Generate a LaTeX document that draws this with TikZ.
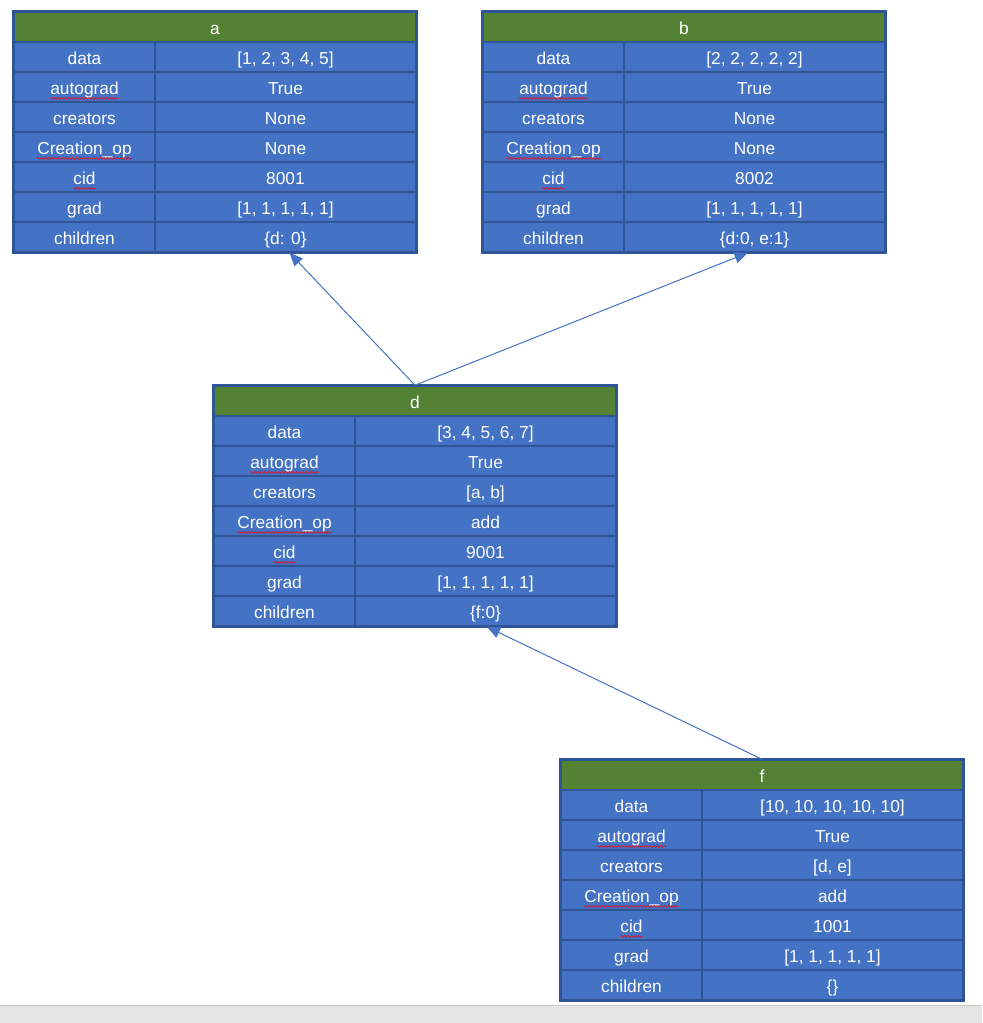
\documentclass[tikz,border=0pt]{standalone}
\usepackage{fontspec}
\setmainfont{Liberation Sans}
\usetikzlibrary{arrows.meta,decorations.pathmorphing}
\definecolor{hdgreen}{HTML}{548235}
\definecolor{cellblue}{HTML}{4472C4}
\definecolor{edgeblue}{HTML}{2F5597}
\definecolor{barfill}{HTML}{E4E4E4}
\definecolor{barline}{HTML}{C6C6C6}
\tikzset{
  txt/.style={text=white, font=\fontsize{13}{15}\selectfont, text height=12pt, text depth=0.8pt},
  cellbase/.style={txt, draw=edgeblue, line width=1.1pt, inner sep=0pt, minimum height=22.5pt},
  hd/.style={cellbase, fill=hdgreen, minimum width=301.5pt},
  kc/.style={cellbase, fill=cellblue, minimum width=105.75pt},
  vc/.style={cellbase, fill=cellblue, minimum width=195.75pt},
  ktext/.style={txt, inner sep=0pt},
  spellwave/.style={draw=red, line width=0.4pt, decorate,
    decoration={snake, amplitude=0.7pt, segment length=2.6pt}},
  outer/.style={draw=edgeblue, line width=1.5pt},
  link/.style={draw=cellblue, line width=0.75pt, -{Triangle[length=10pt,width=8.5pt]}}
}
\newcommand{\tbl}[5]{%
  \node[hd] (#1) at ({#2+201},{#3+15}) {#4};
  \foreach \k [count=\i] in {data,autograd,creators,Creation\_op,cid,grad,children}{
    \node[kc] (#1-k\i) at ({#2+70.5},{#3+15+30*\i}) {};
    \node[ktext] (#1-t\i) at (#1-k\i.center) {\k};
  }
  \foreach \i in {2,4,5}{
    \draw[spellwave] ([yshift=-3pt]#1-t\i.base west) -- ([yshift=-3pt]#1-t\i.base east);
  }
  \foreach \v [count=\i] in {#5}{
    \node[vc] (#1-v\i) at ({#2+271.5},{#3+15+30*\i}) {\v};
  }
  \draw[outer] (#1.north west) rectangle (#1-v7.south east);
}
\begin{document}
\begin{tikzpicture}[x=0.75pt,y=-0.75pt]
  \useasboundingbox (0,0) rectangle (982,1023);
  \fill[barfill] (0,1005) rectangle (982,1023);
  \draw[barline, line width=1pt] (0,1005.5) -- (982,1005.5);
  \tbl{a}{14}{12}{a}{{[1, 2, 3, 4, 5]},True,None,None,8001,{[1, 1, 1, 1, 1]},{\{d: 0\}}}
  \tbl{b}{483}{12}{b}{{[2, 2, 2, 2, 2]},True,None,None,8002,{[1, 1, 1, 1, 1]},{\{d:0, e:1\}}}
  \tbl{d}{214}{386}{d}{{[3, 4, 5, 6, 7]},True,{[a, b]},add,9001,{[1, 1, 1, 1, 1]},{\{f:0\}}}
  \tbl{f}{561}{760}{f}{{[10, 10, 10, 10, 10]},True,{[d, e]},add,1001,{[1, 1, 1, 1, 1]},{\{\}}}
  \draw[link] (d.north) -- ([xshift=3pt]a-v7.south);
  \draw[link] (d.north) -- ([xshift=-5pt]b-v7.south);
  \draw[link] (f.north) -- ([xshift=1pt]d-v7.south);
\end{tikzpicture}
\end{document}
